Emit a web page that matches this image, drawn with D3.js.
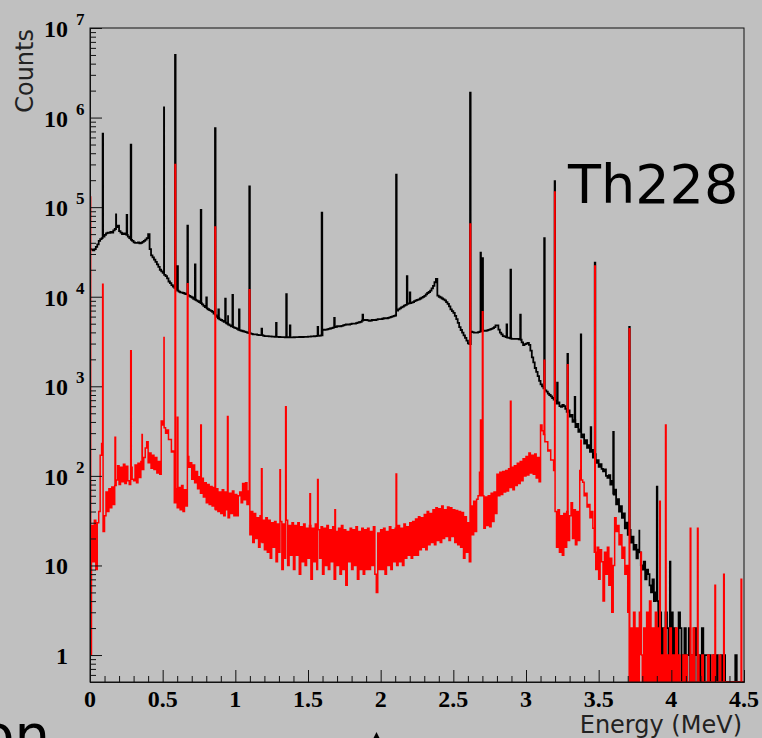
<!doctype html>
<html lang="en">
<head>
  <meta charset="utf-8">
  <style>
    body { margin: 0; background: #c0c0c0; }
    svg { display: block; }
  </style>
</head>
<body>
  <script src="https://d3js.org/d3.v7.min.js"></script>
  <div id="chart"></div>
  <script>
    // axis ticks
    var xTickValues = [0, 0.5, 1, 1.5, 2, 2.5, 3, 3.5, 4, 4.5];
    var xTickLabels = ["0", "0.5", "1", "1.5", "2", "2.5", "3", "3.5", "4", "4.5"];
    var yTickValues = [1, 10, 1e2, 1e3, 1e4, 1e5, 1e6, 1e7];
    var yTickBase = ["1", "10", "10", "10", "10", "10", "10", "10"];
    var yTickExp = ["", "", "2", "3", "4", "5", "6", "7"];

    // black spectrum, continuum, 0.01 MeV bins
    var blackBinW = 0.01;
    var blackCounts = [
      34000, 33500, 33000, 34000, 36000, 38500, 42000, 44000, 45000, 47000,
      49000, 51000, 52000, 51500, 53000, 52000, 55000, 57000, 60000, 62000,
      54000, 52000, 50000, 51000, 50000, 49000, 47000, 45000, 43000, 42000,
      40500, 40000, 40000, 40500, 39500, 40000, 41000, 42000, 43500, 45000,
      50000, 34000, 29000, 27500, 26000, 24500, 23000, 21500, 20000, 19200,
      18500, 17500, 17000, 16000, 14800, 14200, 13500, 13000, 12600, 12100,
      11700, 11400, 11200, 11100, 11000, 10800, 10700, 10400, 10200, 10000,
      9800, 9500, 9300, 9100, 8900, 8700, 8500, 8200, 7900, 7650,
      7400, 7250, 7100, 6950, 6800, 6500, 6200, 5950, 5750, 5600,
      5500, 5380, 5250, 5120, 5000, 4900, 4800, 4680, 4570, 4520,
      4470, 4370, 4270, 4220, 4170, 4120, 4070, 4020, 3980, 3930,
      3890, 3850, 3800, 3800, 3800, 3760, 3720, 3720, 3720, 3680,
      3630, 3630, 3630, 3610, 3600, 3590, 3580, 3570, 3560, 3555,
      3550, 3545, 3540, 3535, 3530, 3530, 3530, 3525, 3520, 3525,
      3530, 3535, 3540, 3545, 3550, 3550, 3550, 3555, 3560, 3570,
      3580, 3590, 3600, 3610, 3620, 3635, 3650, 3670, 3680, 3700,
      4270, 4280, 4300, 4330, 4370, 4420, 4470, 4520, 4570, 4620,
      4680, 4680, 4680, 4730, 4790, 4850, 4900, 4900, 4900, 4950,
      5010, 5010, 5010, 5070, 5130, 5190, 5250, 5400, 5500, 5500,
      5500, 5450, 5370, 5430, 5500, 5500, 5500, 5560, 5620, 5620,
      5620, 5680, 5750, 5750, 5750, 5820, 5890, 5960, 6030, 6100,
      6170, 7000, 7240, 7400, 7590, 7760, 7940, 8130, 8320, 8410,
      8510, 8610, 8710, 8910, 9120, 9220, 9330, 9550, 9770, 9980,
      10200, 10600, 11000, 11300, 11700, 12400, 13200, 14500, 15800, 10300,
      10000, 9800, 9550, 9350, 9120, 8700, 8320, 7800, 7240, 6900,
      6610, 6100, 5620, 5100, 4570, 4250, 3980, 3700, 3470, 3240,
      3020, 2950, 4070, 4020, 3980, 3980, 3980, 4020, 4070, 4120,
      4170, 4170, 4170, 4220, 4270, 4320, 4370, 4470, 4570, 4800,
      4790, 4300, 3980, 3800, 3630, 3600, 3550, 3500, 3470, 3430,
      3390, 3390, 3390, 3390, 3390, 3350, 3310, 3100, 2880, 2950,
      3000, 3050, 2900, 2500, 2100, 1850, 1600, 1450, 1300, 1150,
      1050, 1000, 950, 900, 870, 830, 800, 770, 740, 710,
      690, 640, 660, 600, 590, 620, 600, 560, 520, 540,
      460, 480, 400, 420, 350, 380, 310, 330, 270, 290,
      230, 250, 205, 220, 185, 195, 160, 175, 140, 150,
      126, 135, 120, 112, 118, 100, 95, 102, 80, 88,
      62, 70, 48, 55, 40, 46, 34, 38, 26, 30,
      22, 25, 18, 21, 15, 17, 12, 15, 14, 10,
      9, 11, 7, 9, 8, 6, 5, 7, 4, 5,
      4, 0, 3, 1, 2, 0, 3, 2, 1, 0,
      3, 0, 2, 1, 0, 3, 2, 0, 1, 2,
      0, 1, 2, 0, 1, 0, 2, 1, 0, 1,
      0, 2, 0, 1, 1, 0, 1, 0, 0, 1,
      0, 1, 0, 0, 1, 0, 1, 0, 0, 0,
      0, 0, 0, 0, 1, 0, 0, 0, 0, 0
    ];
    var blackPeakE = [0.087, 0.179, 0.252, 0.280, 0.509, 0.585, 0.601, 0.670, 0.722, 0.762,
                      0.80, 0.860, 0.883, 0.93, 0.95, 0.98, 1.025, 1.096, 1.18, 1.28,
                      1.35, 1.375, 1.566, 1.594, 1.68, 1.875, 2.106, 2.18, 2.20, 2.615,
                      2.687, 2.700, 2.866, 2.893, 2.96, 3.125, 3.197, 3.214, 3.285, 3.335,
                      3.377, 3.445, 3.473, 3.60, 3.71, 3.78, 3.90, 3.99];
    var blackPeakV = [660000, 83000, 82000, 500000, 1300000, 5000000, 22000, 62000, 23000, 93000,
                      9800, 760000, 7200, 9500, 6200, 10500, 7200, 170000, 4400, 5100,
                      10700, 4800, 4600, 87000, 5800, 6300, 230000, 17000, 11200, 1900000,
                      31000, 27000, 4900, 20000, 6300, 45000, 195000, 1100, 2300, 760,
                      3800, 350, 24000, 310, 4600, 25, 76, 11];

    // red spectrum, continuum, 0.01 MeV bins
    var redBinW = 0.01;
    var redCounts = [
      1, 28, 11, 32, 9, 30, 40, 170, 230, 24,
      36, 66, 40, 72, 44, 75, 48, 78, 90, 130,
      80, 125, 86, 135, 82, 128, 88, 80, 125, 92,
      88, 132, 84, 138, 96, 145, 118, 160, 205, 240,
      140, 180, 122, 170, 118, 160, 108, 145, 104, 410,
      370, 345, 300, 325, 255, 255, 185, 190, 50, 72,
      44, 74, 42, 78, 40, 70, 46, 165, 125, 140,
      92, 132, 84, 112, 72, 98, 64, 94, 58, 84,
      50, 80, 48, 76, 46, 74, 42, 72, 40, 66,
      38, 70, 36, 66, 42, 34, 64, 38, 68, 36,
      62, 36, 60, 66, 50, 82, 54, 84, 48, 68,
      22, 40, 18, 38, 20, 34, 16, 36, 18, 32,
      15, 34, 14, 32, 12, 30, 16, 31, 11, 29,
      14, 31, 9, 29, 12, 32, 10, 28, 13, 30,
      9, 28, 13, 30, 8, 27, 11, 29, 10, 26,
      12, 28, 7, 26, 11, 29, 9, 25, 12, 27,
      8, 26, 10, 28, 9, 25, 11, 27, 7, 24,
      10, 26, 8, 28, 9, 25, 6, 24, 11, 26,
      9, 25, 10, 27, 7, 24, 9, 26, 8, 25,
      9, 26, 9, 24, 10, 27, 8, 5, 23, 9,
      25, 9, 26, 8, 24, 10, 27, 9, 25, 11,
      26, 10, 28, 11, 26, 10, 29, 12, 27, 13,
      30, 12, 31, 13, 33, 13, 35, 15, 34, 16,
      37, 15, 40, 17, 38, 18, 42, 17, 44, 19,
      43, 18, 46, 20, 42, 21, 45, 19, 44, 21,
      42, 18, 41, 17, 40, 16, 39, 12, 35, 14,
      30, 11, 46, 22, 52, 24, 55, 60, 110, 60,
      60, 26, 58, 28, 60, 27, 64, 31, 66, 38,
      104, 60, 110, 62, 112, 66, 115, 68, 120, 74,
      125, 70, 130, 78, 138, 82, 145, 88, 155, 100,
      165, 102, 180, 108, 170, 104, 175, 95, 160, 86,
      370, 320, 290, 240, 240, 190, 195, 150, 150, 115,
      40, 16, 42, 14, 36, 13, 38, 16, 40, 19,
      36, 50, 20, 42, 17, 40, 19, 115, 90, 85,
      60, 64, 45, 48, 34, 40, 26, 14, 9, 16,
      7, 15, 11, 4, 14, 8, 16, 6, 12, 3,
      10, 34, 24, 28, 17, 22, 12, 16, 8, 10,
      3, 0, 2, 0, 3, 0, 2, 0, 3, 1,
      0, 2, 0, 3, 0, 4, 0, 2, 0, 3,
      0, 2, 0, 1, 0, 2, 0, 1, 0, 2,
      0, 1, 0, 2, 0, 1, 0, 0, 1, 0,
      1, 0, 0, 1, 0, 2, 0, 0, 1, 0,
      0, 1, 0, 0, 0, 1, 0, 0, 1, 0,
      0, 0, 0, 1, 0, 0, 0, 0, 0, 0,
      0, 0, 0, 0, 0, 0, 0, 0, 0, 0
    ];
    var redPeakE = [0.0005, 0.087, 0.172, 0.280, 0.358, 0.509, 0.585, 0.601, 0.670, 0.762,
                    0.860, 0.946, 1.096, 1.18, 1.307, 1.346, 1.513, 1.566, 1.685, 2.106,
                    2.615, 2.687, 2.700, 2.893, 3.125, 3.197, 3.285, 3.377, 3.473, 3.71,
                    3.79, 3.92, 3.96, 4.13, 4.18, 4.30, 4.36, 4.48];
    var redPeakV = [130000, 13800, 270, 2500, 290, 3500, 300000, 450, 14000, 370,
                    60000, 460, 12000, 120, 117, 590, 63, 91, 42, 105,
                    65000, 420, 6800, 680, 1950, 148000, 1740, 250, 22000, 4400,
                    14, 52, 370, 26, 26, 6, 8, 7];

    var width = 762, height = 738;
    var pLeft = 90, pRight = 744, pTop = 28, pBottom = 682;

    var svg = d3.select("#chart").append("svg")
                .attr("width", width)
                .attr("height", height);

    svg.append("rect").attr("width", width).attr("height", height).attr("fill", "#c0c0c0");

    var x = d3.scaleLinear().domain([0, 4.5]).range([pLeft, pRight]);
    var y = d3.scaleLog().domain([0.5, 1e7]).range([pBottom, pTop]).clamp(true);

    // merge continuum bins and narrow peaks into one step outline
    function buildSeries(counts, binW, peakE, peakV) {
      var pts = counts.map(function(c, i) { return {e: i * binW, v: c}; });
      peakE.forEach(function(e, j) {
        var i = Math.min(counts.length - 1, Math.floor(e / binW + 1e-9));
        pts.push({e: e, v: Math.max(peakV[j], counts[i])});
        var e2 = e + 0.004;
        var i2 = Math.min(counts.length - 1, Math.floor(e2 / binW + 1e-9));
        pts.push({e: e2, v: counts[i2]});
      });
      pts.sort(function(a, b) { return a.e - b.e; });
      pts.push({e: 4.5, v: counts[counts.length - 1]});
      return pts;
    }

    var line = d3.line()
                 .x(function(d) { return x(d.e); })
                 .y(function(d) { return y(Math.max(d.v, 0.5)); })
                 .curve(d3.curveStepAfter);

    svg.append("clipPath").attr("id", "plotclip")
       .append("rect").attr("x", pLeft).attr("y", pTop)
       .attr("width", pRight - pLeft).attr("height", pBottom - pTop);

    var plot = svg.append("g").attr("clip-path", "url(#plotclip)");

    plot.append("path")
        .datum(buildSeries(blackCounts, blackBinW, blackPeakE, blackPeakV))
        .attr("d", line)
        .attr("fill", "none")
        .attr("stroke", "#000")
        .attr("stroke-width", 1.8);

    plot.append("path")
        .datum(buildSeries(redCounts, redBinW, redPeakE, redPeakV))
        .attr("d", line)
        .attr("fill", "none")
        .attr("stroke", "#ff0000")
        .attr("stroke-width", 1.5);

    // frame
    svg.append("rect")
       .attr("x", pLeft).attr("y", pTop)
       .attr("width", pRight - pLeft).attr("height", pBottom - pTop)
       .attr("fill", "none").attr("stroke", "#111").attr("stroke-width", 1);

    // y axis ticks (inside)
    var yMinor = [];
    for (var p = -1; p < 7; p++) {
      for (var k = 2; k < 10; k++) {
        var v = k * Math.pow(10, p);
        if (v >= 0.5 && v <= 1e7) yMinor.push(v);
      }
    }
    svg.append("g").attr("transform", "translate(" + pLeft + ",0)")
       .call(d3.axisLeft(y).tickValues(yTickValues).tickSize(-12).tickSizeOuter(0).tickFormat(""));
    svg.append("g").attr("transform", "translate(" + pLeft + ",0)")
       .call(d3.axisLeft(y).tickValues(yMinor).tickSize(-6).tickSizeOuter(0).tickFormat(""));

    // x axis ticks (inside)
    var xMinor = d3.range(0, 46).map(function(i) { return i / 10; })
                   .filter(function(v) { return Math.round(v * 10) % 5 !== 0; });
    svg.append("g").attr("transform", "translate(0," + pBottom + ")")
       .call(d3.axisBottom(x).tickValues(xTickValues).tickSize(-12).tickSizeOuter(0).tickFormat(""));
    svg.append("g").attr("transform", "translate(0," + pBottom + ")")
       .call(d3.axisBottom(x).tickValues(xMinor).tickSize(-6).tickSizeOuter(0).tickFormat(""));

    svg.selectAll(".domain, .tick line").attr("stroke", "#111");

    // tick labels
    var labelFont = "'Liberation Serif', 'DejaVu Serif', serif";
    xTickValues.forEach(function(v, i) {
      svg.append("text")
         .attr("x", x(v)).attr("y", 707)
         .attr("text-anchor", "middle")
         .style("font-family", labelFont).style("font-weight", "bold").style("font-size", "24px")
         .text(xTickLabels[i]);
    });
    yTickValues.forEach(function(v, i) {
      svg.append("text")
         .attr("x", 68).attr("y", y(v) + 9)
         .attr("text-anchor", "end")
         .style("font-family", labelFont).style("font-weight", "bold").style("font-size", "24px")
         .text(yTickBase[i]);
      if (yTickExp[i]) {
        svg.append("text")
           .attr("x", 76).attr("y", y(v) - 3)
           .style("font-family", labelFont).style("font-weight", "bold").style("font-size", "17px")
           .text(yTickExp[i]);
      }
    });

    // axis titles
    var sans = "'DejaVu Sans', sans-serif";
    svg.append("text")
       .attr("transform", "translate(33,29) rotate(-90)")
       .attr("text-anchor", "end")
       .style("font-family", sans).style("font-size", "24px").attr("fill", "#222")
       .text("Counts");
    svg.append("text")
       .attr("x", 742).attr("y", 733)
       .attr("text-anchor", "end")
       .style("font-family", sans).style("font-size", "24px").attr("fill", "#222")
       .text("Energy (MeV)");

    svg.append("text")
       .attr("x", 568).attr("y", 203)
       .style("font-family", sans).style("font-size", "54px").attr("fill", "#000")
       .text("Th228");

    // bits of the slide around the picture
    svg.append("text")
       .attr("x", 50).attr("y", 754)
       .attr("text-anchor", "end")
       .style("font-family", sans).style("font-size", "56px").attr("fill", "#000")
       .text("on");
    svg.append("path")
       .attr("d", "M376.5,732L383,745L370,745Z")
       .attr("fill", "#000");
  </script>
</body>
</html>
